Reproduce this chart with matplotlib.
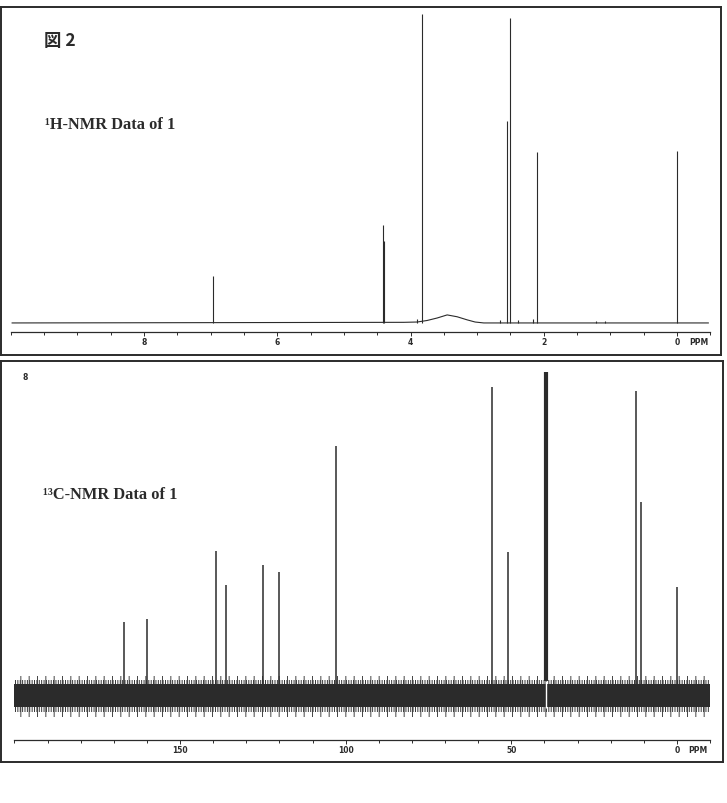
import numpy as np
import matplotlib.pyplot as plt
from matplotlib.ticker import FixedLocator, MultipleLocator

W, H = 727, 804
INK = '#2b2b2b'
plt.rcParams['hatch.linewidth'] = 0.7

# 1H-NMR: peak positions (ppm) and heights (tallest = 100)
h_ppm = [6.96, 4.42, 4.40, 3.83, 2.55, 2.50, 2.10, 0.00]
h_int = [15.3, 31.6, 26.4, 100.0, 65.5, 98.7, 55.4, 55.7]
h_small_ppm = [3.90, 2.65, 2.38, 2.16, 1.22, 1.08]
h_small_int = [1.3, 1.0, 1.0, 1.4, 0.5, 0.5]
# baseline incl. the broad hump around 3.4 ppm
h_base_ppm = [9.98, 4.10, 3.90, 3.75, 3.60, 3.45, 3.30, 3.15, 3.03, 2.90, -0.47]
h_base_int = [0, 0.2, 0.3, 0.8, 1.6, 2.6, 2.0, 1.0, 0.3, 0, 0]
h_ticks = [8, 6, 4, 2, 0]
h_range = (10, -0.5)

# 13C-NMR
c_ppm = [166.9, 159.9, 139.2, 136.1, 125.0, 120.2, 103.0, 55.7, 51.1, 12.4, 10.8, 0.0]
c_int = [23.7, 24.7, 46.8, 35.7, 42.2, 40.0, 80.8, 100.0, 46.4, 98.7, 62.7, 35.1]
solvent_ppm = 39.5
solvent_int = 104.9
noise_solid = (-3.8, 3.6)
noise_fringe = (-5.4, 5.0)
noise_spikes = (-7.1, 6.2)
c_ticks = [150, 100, 50, 0]
c_range = (200, -10)


def box(l, t, r, b):
    # pixel box -> figure fraction
    return [l / W, 1 - b / H, (r - l) / W, (b - t) / H]


def style_axis(ax, ticks, minor):
    for s in ['top', 'left', 'right']:
        ax.spines[s].set_visible(False)
    ax.spines['bottom'].set_linewidth(0.9)
    ax.spines['bottom'].set_color(INK)
    ax.set_facecolor('none')
    ax.set_yticks([])
    ax.xaxis.set_major_locator(FixedLocator(ticks))
    ax.xaxis.set_minor_locator(MultipleLocator(minor))
    ax.set_xticklabels([str(t) for t in ticks], fontsize=5.5, fontweight='bold', color=INK)
    ax.tick_params(axis='x', which='major', direction='out', length=3, width=0.7, pad=0.8, color=INK)
    ax.tick_params(axis='x', which='minor', direction='out', length=1.8, width=0.7, color=INK)
    ax.annotate('PPM', xy=(0, 0), xycoords=('data', 'axes fraction'), xytext=(8.5, -3.8),
                textcoords='offset points', va='top', ha='left', fontsize=5.5,
                fontweight='bold', color=INK)


fig = plt.figure(figsize=(7.27, 8.04), dpi=100)

# frames
for l, t, r, b in [(1.5, 8, 721, 356), (1.5, 362, 723, 763)]:
    fr = fig.add_axes(box(l, t, r, b))
    fr.set_xticks([])
    fr.set_yticks([])
    for s in fr.spines.values():
        s.set_linewidth(1.4)
        s.set_color(INK)

# top: 1H
ax1 = fig.add_axes(box(10.8, 10, 710.3, 333))
ax1.set_xlim(*h_range)
ax1.set_ylim(-2.93, 101.6)
ax1.plot(h_base_ppm, h_base_int, color=INK, lw=0.8)
ax1.vlines(h_ppm, 0, h_int, color=INK, lw=0.8)
ax1.vlines(h_small_ppm, 0, h_small_int, color=INK, lw=0.8)
style_axis(ax1, h_ticks, 0.5)

# bottom: 13C, noise drawn as a band with hatched fringes
ax2 = fig.add_axes(box(14.4, 366, 710, 741))
ax2.set_xlim(*c_range)
ax2.set_ylim(-14.6, 107.2)
ax2.fill_between(c_range, noise_spikes[0], noise_spikes[1], facecolor='none',
                 edgecolor='#444444', hatch='||', linewidth=0)
ax2.fill_between(c_range, noise_fringe[0], noise_fringe[1], facecolor='none',
                 edgecolor='#333333', hatch='|||||||', linewidth=0)
ax2.fill_between(c_range, noise_solid[0], noise_solid[1], color=INK, lw=0)
ax2.vlines(c_ppm, 0, c_int, color=INK, lw=1.1)
ax2.vlines(solvent_ppm, noise_solid[0] - 0.3, noise_solid[1] + 1, color='white', lw=1.0)
ax2.vlines(solvent_ppm, noise_solid[1] + 1, solvent_int, color=INK, lw=3)
style_axis(ax2, c_ticks, 10)

# texts
fig.text(44 / W, 1 - 41 / H, '図 2', family=['Noto Sans CJK JP', 'DejaVu Sans'],
         fontsize=12.5, fontweight='bold', va='center', color=INK)
fig.text(45 / W, 1 - 125 / H, '¹H-NMR Data of 1', family='Liberation Serif',
         fontweight='bold', fontsize=11.8, va='center', color=INK)
fig.text(43 / W, 1 - 495 / H, '¹³C-NMR Data of 1', family='Liberation Serif',
         fontweight='bold', fontsize=11.8, va='center', color=INK)
fig.text(25 / W, 1 - 378 / H, '8', fontsize=5.5, fontweight='bold', ha='center',
         va='center', color=INK)

fig.savefig('out.png', dpi=100)
